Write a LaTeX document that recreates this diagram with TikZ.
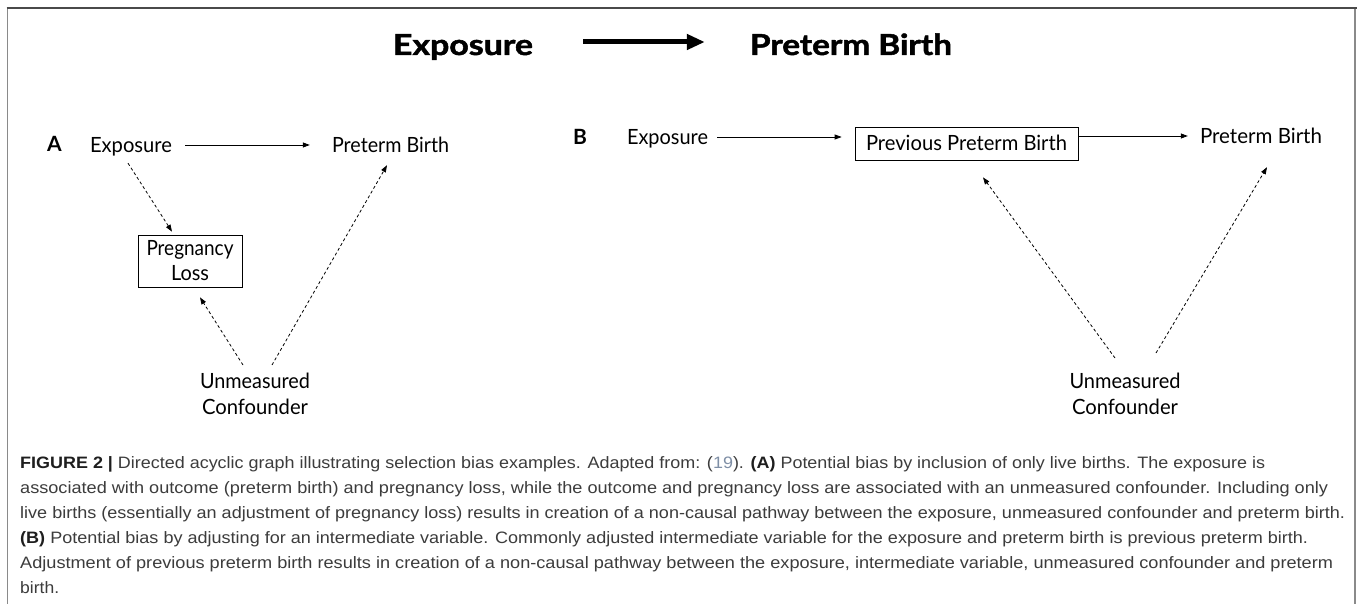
\documentclass[tikz,border=0pt]{standalone}
\usepackage{fontspec}
\setmainfont{Liberation Sans}
\newfontfamily\dfont{Lato}
\newfontfamily\hfont[BoldFeatures={FakeBold=1.6}]{Lato}
\usetikzlibrary{arrows.meta}
\definecolor{captxt}{HTML}{3C3C3C}
\definecolor{capbold}{HTML}{1E1E1E}
\definecolor{refc}{HTML}{7F8FA6}
\definecolor{frametop}{HTML}{4A4A4A}
\definecolor{frameside}{HTML}{8A8A8A}
\newsavebox\fitbox
\newcommand\fitto[2]{\sbox\fitbox{#2}\edef\fitscale{\fpeval{#1/\wd\fitbox}}\scalebox{\fitscale}[1]{\usebox\fitbox}}
\tikzset{
  lbl/.style={inner sep=0pt, font=\dfont\fontsize{21}{25}\selectfont, text height=15pt, text depth=4.5pt, text=black},
  multi/.style={inner sep=0pt, align=center, text=black},
  plab/.style={inner sep=0pt, font=\dfont\bfseries\fontsize{21}{25}\selectfont, text=black},
  head/.style={inner sep=0pt, font=\hfont\bfseries\fontsize{29}{32}\selectfont, text height=20pt, text depth=7pt, text=black},
  captext/.style={inner sep=0pt, anchor=base west, font=\fontsize{16.5}{25}\selectfont, text=captxt},
  arr/.style={-{Triangle[length=7pt,width=5pt]}, line width=0.8pt, draw=black},
  dasharr/.style={arr, dash pattern=on 3pt off 2.5pt},
  bigarr/.style={-{Triangle[length=18pt,width=15pt]}, line width=5pt, draw=black},
}
\begin{document}
\begin{tikzpicture}[x=1pt,y=-1pt]
\useasboundingbox (0,0) rectangle (1357,604);
\fill[white] (0,0) rectangle (1357,604);
% frame
\draw[frameside, line width=1.6pt] (7.5,8) -- (7.5,604);
\draw[frameside, line width=1.6pt] (1355,8) -- (1355,604);
\draw[frametop, line width=1.6pt] (6.7,8) -- (1357,8);

% heading
\node[head, anchor=base] (texp) at (463,55) {\fitto{140}{Exposure}};
\node[head, anchor=base] (tpb) at (851,55) {\fitto{202}{Preterm Birth}};
\draw[bigarr] ([shift={(50,-6.5)}]texp.east) -- ([shift={(-45,-6.5)}]tpb.west);

% panel A
\node[plab, anchor=base] (alab) at (54.5,152) {A};
\node[lbl, anchor=base] (aexp) at (131,153) {\fitto{82}{Exposure}};
\node[lbl, anchor=base] (apb) at (390.5,153) {\fitto{117}{Preterm Birth}};
\node[multi, draw=black, line width=0.7pt, minimum width=104pt, minimum height=52pt,
      font=\dfont\fontsize{21}{25}\selectfont] (aloss) at (190,261)
      {\fitto{87}{Pregnancy}\\\fitto{38}{Loss}};
\node[multi, anchor=north, font=\dfont\fontsize{21}{26}\selectfont] (aum) at (255,373)
      {\fitto{110}{Unmeasured}\\\fitto{106}{Confounder}};
\draw[arr] ([shift={(13,-2.75)}]aexp.east) -- ([shift={(-22,-2.75)}]apb.west);
\draw[dasharr] ([shift={(-3,5.5)}]aexp.south) -- ([shift={(-18,-3)}]aloss.north);
\draw[dasharr] ([shift={(-12,-8)}]aum.north) -- ([shift={(10,10)}]aloss.south);
\draw[dasharr] ([shift={(17,-8)}]aum.north) -- ([shift={(-3.5,7.5)}]apb.south);

% panel B
\node[plab, anchor=base] (blab) at (580,145) {B};
\node[lbl, anchor=base] (bexp) at (667.5,145) {\fitto{81}{Exposure}};
\node[inner sep=0pt, draw=black, line width=0.7pt, minimum width=223pt, minimum height=33pt,
      font=\dfont\fontsize{21}{25}\selectfont, text height=17pt, text depth=2pt, text=black]
      (bppb) at (966.5,143.5) {\fitto{201}{Previous Preterm Birth}};
\node[lbl, anchor=base] (bpb) at (1261,144) {\fitto{122}{Preterm Birth}};
\node[multi, anchor=north, font=\dfont\fontsize{21}{26}\selectfont] (bum) at (1125,373)
      {\fitto{111}{Unmeasured}\\\fitto{106}{Confounder}};
\draw[arr] ([shift={(9,-2.75)}]bexp.east) -- ([shift={(-13,-6.5)}]bppb.west);
\draw[arr] ([shift={(0,-7.5)}]bppb.east) -- ([shift={(-12,-2.75)}]bpb.west);
\draw[dasharr] ([shift={(-10,-15)}]bum.north) -- ([shift={(16.5,17)}]bppb.south);
\draw[dasharr] ([shift={(31,-20)}]bum.north) -- ([shift={(6,18.5)}]bpb.south);

% caption
\node[captext] (c1) at (20,468) {\fitto{1245}{{\bfseries\color{capbold}FIGURE 2 |} Directed acyclic graph illustrating selection bias examples. Adapted from: ({\color{refc}19}). {\bfseries\color{capbold}(A)} Potential bias by inclusion of only live births. The exposure is}};
\node[captext] (c2) at (20,493) {\fitto{1308}{associated with outcome (preterm birth) and pregnancy loss, while the outcome and pregnancy loss are associated with an unmeasured confounder. Including only}};
\node[captext] (c3) at (20,518) {\fitto{1325}{live births (essentially an adjustment of pregnancy loss) results in creation of a non-causal pathway between the exposure, unmeasured confounder and preterm birth.}};
\node[captext] (c4) at (20,543) {\fitto{1288}{{\bfseries\color{capbold}(B)} Potential bias by adjusting for an intermediate variable. Commonly adjusted intermediate variable for the exposure and preterm birth is previous preterm birth.}};
\node[captext] (c5) at (20,568) {\fitto{1313}{Adjustment of previous preterm birth results in creation of a non-causal pathway between the exposure, intermediate variable, unmeasured confounder and preterm}};
\node[captext] (c6) at (20,593) {\fitto{39}{birth.}};
\end{tikzpicture}
\end{document}
